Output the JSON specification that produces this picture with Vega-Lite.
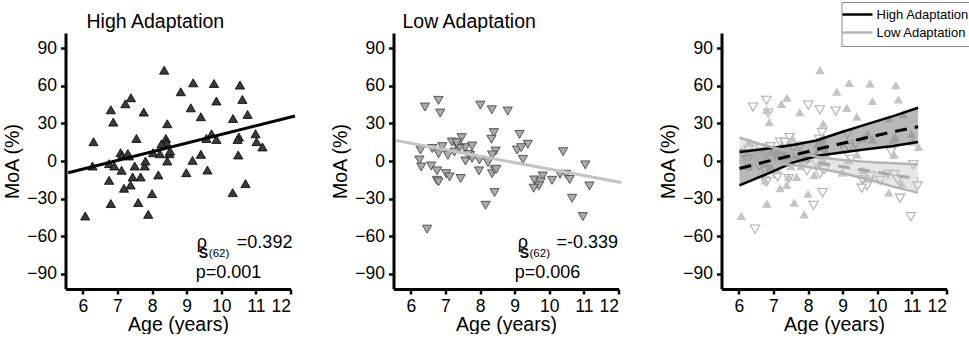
{
  "$schema": "https://vega.github.io/schema/vega-lite/v6.json",
  "padding": {"left": 2.5, "top": 1, "right": 0, "bottom": 0},
  "background": "white",
  "config": {
    "font": "Liberation Sans",
    "view": {"stroke": null},
    "axis": {"domainColor": "#000", "domainWidth": 3, "tickColor": "#000", "tickWidth": 2.5, "tickSize": 5, "labelFontSize": 17.5, "labelColor": "#000", "titleFontSize": 19.5, "titleFontWeight": "normal", "titleColor": "#000", "grid": false, "labelFont": "Liberation Sans", "titleFont": "Liberation Sans", "labelOverlap": false},
    "axisX": {"labelPadding": 3, "titlePadding": 1},
    "axisY": {"labelPadding": 4, "titlePadding": 4},
    "title": {"fontSize": 19.5, "fontWeight": "normal", "anchor": "start", "frame": "group", "offset": 1, "color": "#000", "font": "Liberation Sans"}
  },
  "datasets": {
    "high": [
      {"age": 8.35, "moa": 72.4}, {"age": 9.19, "moa": 62.3}, {"age": 9.79, "moa": 61.8}, {"age": 10.54, "moa": 60.5},
      {"age": 8.83, "moa": 55.2}, {"age": 7.39, "moa": 50.4}, {"age": 7.23, "moa": 45.6}, {"age": 9.86, "moa": 47.8},
      {"age": 10.61, "moa": 49.1}, {"age": 6.81, "moa": 40.8}, {"age": 7.76, "moa": 39.0}, {"age": 9.12, "moa": 42.4},
      {"age": 10.76, "moa": 37.1}, {"age": 6.88, "moa": 31.0}, {"age": 9.41, "moa": 35.3}, {"age": 10.34, "moa": 33.9},
      {"age": 8.44, "moa": 29.7}, {"age": 6.31, "moa": 15.4}, {"age": 7.55, "moa": 18.0}, {"age": 8.40, "moa": 18.0},
      {"age": 8.42, "moa": 14.6}, {"age": 9.72, "moa": 21.7}, {"age": 9.57, "moa": 18.0}, {"age": 9.86, "moa": 17.2},
      {"age": 10.51, "moa": 19.1}, {"age": 10.47, "moa": 17.2}, {"age": 10.99, "moa": 21.7}, {"age": 11.02, "moa": 15.4},
      {"age": 11.19, "moa": 11.2}, {"age": 7.09, "moa": 6.6}, {"age": 7.14, "moa": 4.5}, {"age": 7.33, "moa": 4.0},
      {"age": 8.03, "moa": 6.6}, {"age": 8.23, "moa": 5.8}, {"age": 8.50, "moa": 5.8}, {"age": 9.41, "moa": 5.3},
      {"age": 10.49, "moa": 4.8}, {"age": 6.28, "moa": -4.0}, {"age": 6.76, "moa": -2.1}, {"age": 6.91, "moa": -4.0},
      {"age": 7.50, "moa": -4.0}, {"age": 7.79, "moa": -4.0}, {"age": 7.81, "moa": 0.0}, {"age": 8.44, "moa": 0.0},
      {"age": 9.17, "moa": 0.5}, {"age": 7.12, "moa": -7.4}, {"age": 8.99, "moa": -9.3}, {"age": 9.60, "moa": -7.2},
      {"age": 8.18, "moa": -11.1}, {"age": 7.44, "moa": -12.7}, {"age": 7.67, "moa": -12.7}, {"age": 6.76, "moa": -15.4},
      {"age": 7.38, "moa": -19.1}, {"age": 7.19, "moa": -21.7}, {"age": 10.70, "moa": -18.0}, {"age": 8.00, "moa": -26.0},
      {"age": 10.33, "moa": -25.2}, {"age": 6.81, "moa": -33.9}, {"age": 7.60, "moa": -33.1}, {"age": 7.89, "moa": -42.5},
      {"age": 6.07, "moa": -43.8}, {"age": 8.52, "moa": 7.9}, {"age": 8.27, "moa": 13.5}, {"age": 7.30, "moa": 6.0}
    ],
    "low": [
      {"age": 6.41, "moa": 43.0}, {"age": 6.80, "moa": 48.3}, {"age": 6.85, "moa": 38.2}, {"age": 8.01, "moa": 44.5},
      {"age": 8.34, "moa": 40.8}, {"age": 8.80, "moa": 39.8}, {"age": 8.40, "moa": 22.6}, {"age": 8.33, "moa": 17.3},
      {"age": 9.14, "moa": 21.2}, {"age": 9.38, "moa": 13.3}, {"age": 7.47, "moa": 18.6}, {"age": 7.19, "moa": 15.1},
      {"age": 6.91, "moa": 11.4}, {"age": 7.34, "moa": 11.9}, {"age": 7.57, "moa": 10.6}, {"age": 7.77, "moa": 11.9},
      {"age": 6.28, "moa": 8.7}, {"age": 6.80, "moa": 5.8}, {"age": 7.07, "moa": 4.5}, {"age": 7.40, "moa": 9.9},
      {"age": 7.71, "moa": 4.5}, {"age": 7.77, "moa": 2.1}, {"age": 7.98, "moa": 0.8}, {"age": 7.58, "moa": 0.0},
      {"age": 8.45, "moa": 7.9}, {"age": 8.35, "moa": 4.8}, {"age": 8.23, "moa": -1.3}, {"age": 9.07, "moa": 8.7},
      {"age": 9.19, "moa": 10.6}, {"age": 9.24, "moa": 1.3}, {"age": 10.40, "moa": 7.4}, {"age": 11.04, "moa": -3.1},
      {"age": 6.25, "moa": 0.8}, {"age": 6.30, "moa": -4.8}, {"age": 6.59, "moa": -4.0}, {"age": 6.76, "moa": -7.9},
      {"age": 7.02, "moa": -10.1}, {"age": 7.12, "moa": -12.7}, {"age": 7.44, "moa": -14.0}, {"age": 6.75, "moa": -15.4},
      {"age": 6.80, "moa": -16.7}, {"age": 7.97, "moa": -7.9}, {"age": 8.35, "moa": -10.1}, {"age": 8.42, "moa": -7.1},
      {"age": 8.42, "moa": -25.2}, {"age": 8.16, "moa": -35.3}, {"age": 6.47, "moa": -54.3}, {"age": 9.57, "moa": -15.1},
      {"age": 9.81, "moa": -11.9}, {"age": 9.75, "moa": -16.7}, {"age": 9.70, "moa": -19.9}, {"age": 9.55, "moa": -21.7},
      {"age": 10.08, "moa": -15.4}, {"age": 10.31, "moa": -10.6}, {"age": 10.49, "moa": -10.6}, {"age": 10.59, "moa": -14.8},
      {"age": 11.16, "moa": -19.9}, {"age": 10.66, "moa": -29.7}, {"age": 10.97, "moa": -44.3}, {"age": 7.33, "moa": 14.6},
      {"age": 7.26, "moa": 7.1}, {"age": 7.65, "moa": 5.3}, {"age": 8.47, "moa": -6.6}, {"age": 6.62, "moa": 10.0}
    ],
    "regHigh": [{"age": 5.58, "moa": -9.3}, {"age": 12.13, "moa": 35.8}],
    "regLow": [{"age": 5.58, "moa": 16.4}, {"age": 12.08, "moa": -17.2}],
    "bands": [
      {"group": "High Adaptation", "age": 6.02, "lo": -19.4, "hi": 7.2, "fit": -6.0},
      {"group": "High Adaptation", "age": 6.79, "lo": -10.6, "hi": 9.8, "fit": -0.5},
      {"group": "High Adaptation", "age": 7.56, "lo": -1.3, "hi": 12.7, "fit": 4.5},
      {"group": "High Adaptation", "age": 8.24, "lo": 4.0, "hi": 16.4, "fit": 9.2},
      {"group": "High Adaptation", "age": 8.91, "lo": 6.6, "hi": 22.5, "fit": 13.5},
      {"group": "High Adaptation", "age": 9.68, "lo": 9.3, "hi": 29.2, "fit": 18.5},
      {"group": "High Adaptation", "age": 10.46, "lo": 11.9, "hi": 35.8, "fit": 23.3},
      {"group": "High Adaptation", "age": 11.18, "lo": 15.1, "hi": 42.4, "fit": 27.3},
      {"group": "Low Adaptation", "age": 6.02, "lo": -0.5, "hi": 18.5, "fit": 9.0},
      {"group": "Low Adaptation", "age": 6.5, "lo": -0.9, "hi": 14.5, "fit": 6.8},
      {"group": "Low Adaptation", "age": 7.0, "lo": -1.8, "hi": 10.8, "fit": 4.5},
      {"group": "Low Adaptation", "age": 7.5, "lo": -2.9, "hi": 7.5, "fit": 2.3},
      {"group": "Low Adaptation", "age": 8.0, "lo": -4.7, "hi": 4.7, "fit": 0.0},
      {"group": "Low Adaptation", "age": 8.5, "lo": -6.9, "hi": 2.3, "fit": -2.3},
      {"group": "Low Adaptation", "age": 9.0, "lo": -9.6, "hi": 0.8, "fit": -4.5},
      {"group": "Low Adaptation", "age": 9.5, "lo": -13.1, "hi": -0.3, "fit": -6.8},
      {"group": "Low Adaptation", "age": 10.0, "lo": -16.8, "hi": -1.1, "fit": -9.0},
      {"group": "Low Adaptation", "age": 10.5, "lo": -20.8, "hi": -1.8, "fit": -11.3},
      {"group": "Low Adaptation", "age": 11.18, "lo": -25.2, "hi": -2.7, "fit": -14.3}
    ],
    "notesHigh": [
      {"role": "big", "text": "ρ", "age": 9.29, "moa": -69.2},
      {"role": "S", "text": "S", "age": 9.35, "moa": -77.2},
      {"role": "n", "text": "(62)", "age": 9.64, "moa": -76.4},
      {"role": "big", "text": "=0.392", "age": 10.45, "moa": -69.2},
      {"role": "big", "text": "p=0.001", "age": 9.26, "moa": -93.1}
    ],
    "notesLow": [
      {"role": "big", "text": "ρ", "age": 9.09, "moa": -69.2},
      {"role": "S", "text": "S", "age": 9.15, "moa": -77.2},
      {"role": "n", "text": "(62)", "age": 9.43, "moa": -76.4},
      {"role": "big", "text": "=-0.339", "age": 10.21, "moa": -69.2},
      {"role": "big", "text": "p=0.006", "age": 9.0, "moa": -93.1}
    ]
  },
  "bounds": "flush",
  "spacing": 103,
  "hconcat": [
    {
      "width": 225, "height": 256,
      "title": {"text": "High Adaptation", "dx": 21},
      "layer": [
        {
          "data": {"name": "high"},
          "mark": {"type": "point", "shape": "triangle-up", "filled": true, "fill": "#3a3a3a", "stroke": "#000", "strokeWidth": 0.8, "size": 85, "opacity": 1},
          "encoding": {
            "x": {"field": "age", "type": "quantitative", "title": "Age (years)", "scale": {"domain": [5.5, 12], "nice": false, "zero": false}, "axis": {"values": [6, 7, 8, 9, 10, 11, 12], "labelOverlap": false, "labelBound": false, "tickCount": 7}},
            "y": {"field": "moa", "type": "quantitative", "title": "MoA (%)", "scale": {"domain": [-102, 102], "nice": false}, "axis": {"values": [-90, -60, -30, 0, 30, 60, 90], "labelOverlap": false}}
          }
        },
        {
          "data": {"name": "regHigh"},
          "mark": {"type": "line", "color": "#000", "strokeWidth": 3, "clip": false},
          "encoding": {
            "x": {"field": "age", "type": "quantitative", "title": "Age (years)"},
            "y": {"field": "moa", "type": "quantitative", "title": "MoA (%)"}
          }
        },
        {
          "data": {"name": "notesHigh"},
          "transform": [{"filter": "datum.role == 'big'"}],
          "mark": {"type": "text", "align": "left", "baseline": "alphabetic", "fontSize": 18, "color": "#000"},
          "encoding": {
            "x": {"field": "age", "type": "quantitative", "title": "Age (years)"},
            "y": {"field": "moa", "type": "quantitative", "title": "MoA (%)"},
            "text": {"field": "text"}
          }
        },
        {
          "data": {"name": "notesHigh"},
          "transform": [{"filter": "datum.role == 'S'"}],
          "mark": {"type": "text", "align": "left", "baseline": "alphabetic", "fontSize": 14, "fontWeight": "bold", "color": "#000"},
          "encoding": {
            "x": {"field": "age", "type": "quantitative", "title": "Age (years)"},
            "y": {"field": "moa", "type": "quantitative", "title": "MoA (%)"},
            "text": {"field": "text"}
          }
        },
        {
          "data": {"name": "notesHigh"},
          "transform": [{"filter": "datum.role == 'n'"}],
          "mark": {"type": "text", "align": "left", "baseline": "alphabetic", "fontSize": 11.5, "color": "#000"},
          "encoding": {
            "x": {"field": "age", "type": "quantitative", "title": "Age (years)"},
            "y": {"field": "moa", "type": "quantitative", "title": "MoA (%)"},
            "text": {"field": "text"}
          }
        }
      ]
    },
    {
      "width": 225, "height": 256,
      "title": {"text": "Low Adaptation", "dx": 9},
      "layer": [
        {
          "data": {"name": "low"},
          "mark": {"type": "point", "shape": "triangle-down", "filled": true, "fill": "#ababab", "stroke": "#4a4a4a", "strokeWidth": 0.9, "size": 85, "opacity": 1},
          "encoding": {
            "x": {"field": "age", "type": "quantitative", "title": "Age (years)", "scale": {"domain": [5.5, 12], "nice": false, "zero": false}, "axis": {"values": [6, 7, 8, 9, 10, 11, 12], "labelOverlap": false, "labelBound": false, "tickCount": 7}},
            "y": {"field": "moa", "type": "quantitative", "title": "MoA (%)", "scale": {"domain": [-102, 102], "nice": false}, "axis": {"values": [-90, -60, -30, 0, 30, 60, 90], "labelOverlap": false}}
          }
        },
        {
          "data": {"name": "regLow"},
          "mark": {"type": "line", "color": "#c4c4c4", "strokeWidth": 3, "clip": false},
          "encoding": {
            "x": {"field": "age", "type": "quantitative", "title": "Age (years)"},
            "y": {"field": "moa", "type": "quantitative", "title": "MoA (%)"}
          }
        },
        {
          "data": {"name": "notesLow"},
          "transform": [{"filter": "datum.role == 'big'"}],
          "mark": {"type": "text", "align": "left", "baseline": "alphabetic", "fontSize": 18, "color": "#000"},
          "encoding": {
            "x": {"field": "age", "type": "quantitative", "title": "Age (years)"},
            "y": {"field": "moa", "type": "quantitative", "title": "MoA (%)"},
            "text": {"field": "text"}
          }
        },
        {
          "data": {"name": "notesLow"},
          "transform": [{"filter": "datum.role == 'S'"}],
          "mark": {"type": "text", "align": "left", "baseline": "alphabetic", "fontSize": 14, "fontWeight": "bold", "color": "#000"},
          "encoding": {
            "x": {"field": "age", "type": "quantitative", "title": "Age (years)"},
            "y": {"field": "moa", "type": "quantitative", "title": "MoA (%)"},
            "text": {"field": "text"}
          }
        },
        {
          "data": {"name": "notesLow"},
          "transform": [{"filter": "datum.role == 'n'"}],
          "mark": {"type": "text", "align": "left", "baseline": "alphabetic", "fontSize": 11.5, "color": "#000"},
          "encoding": {
            "x": {"field": "age", "type": "quantitative", "title": "Age (years)"},
            "y": {"field": "moa", "type": "quantitative", "title": "MoA (%)"},
            "text": {"field": "text"}
          }
        }
      ]
    },
    {
      "width": 225, "height": 256,
      "layer": [
        {
          "data": {"name": "low"},
          "mark": {"type": "point", "shape": "triangle-down", "filled": true, "fill": "#ffffff", "stroke": "#b0b0b0", "strokeWidth": 1.1, "size": 90, "opacity": 1},
          "encoding": {
            "x": {"field": "age", "type": "quantitative", "title": "Age (years)", "scale": {"domain": [5.5, 12], "nice": false, "zero": false}, "axis": {"values": [6, 7, 8, 9, 10, 11, 12], "labelOverlap": false, "labelBound": false, "tickCount": 7}},
            "y": {"field": "moa", "type": "quantitative", "title": "MoA (%)", "scale": {"domain": [-102, 102], "nice": false}, "axis": {"values": [-90, -60, -30, 0, 30, 60, 90], "labelOverlap": false}}
          }
        },
        {
          "data": {"name": "high"},
          "mark": {"type": "point", "shape": "triangle-up", "filled": true, "fill": "#c4c4c4", "strokeWidth": 0, "size": 90, "opacity": 1},
          "encoding": {
            "x": {"field": "age", "type": "quantitative", "title": "Age (years)"},
            "y": {"field": "moa", "type": "quantitative", "title": "MoA (%)"}
          }
        },
        {
          "data": {"name": "bands"},
          "transform": [{"filter": "datum.group == 'Low Adaptation'"}],
          "mark": {"type": "area", "color": "#c0c0c0", "opacity": 0.4},
          "encoding": {
            "x": {"field": "age", "type": "quantitative", "title": "Age (years)"},
            "y": {"field": "lo", "type": "quantitative", "title": "MoA (%)"},
            "y2": {"field": "hi"}
          }
        },
        {
          "data": {"name": "bands"},
          "transform": [{"filter": "datum.group == 'High Adaptation'"}],
          "mark": {"type": "area", "color": "#808080", "opacity": 0.55},
          "encoding": {
            "x": {"field": "age", "type": "quantitative", "title": "Age (years)"},
            "y": {"field": "lo", "type": "quantitative", "title": "MoA (%)"},
            "y2": {"field": "hi"}
          }
        },
        {
          "data": {"name": "bands"},
          "transform": [{"filter": "datum.group == 'Low Adaptation'"}],
          "mark": {"type": "line", "color": "#a8a8a8", "strokeWidth": 3, "strokeDash": [12, 8]},
          "encoding": {
            "x": {"field": "age", "type": "quantitative", "title": "Age (years)"},
            "y": {"field": "fit", "type": "quantitative", "title": "MoA (%)"}
          }
        },
        {
          "data": {"name": "bands"},
          "transform": [{"fold": ["lo", "hi"], "as": ["bound", "val"]}],
          "mark": {"type": "line", "strokeWidth": 2.5},
          "encoding": {
            "x": {"field": "age", "type": "quantitative", "title": "Age (years)"},
            "y": {"field": "val", "type": "quantitative", "title": "MoA (%)"},
            "detail": {"field": "bound"},
            "stroke": {
              "field": "group", "type": "nominal",
              "scale": {"domain": ["High Adaptation", "Low Adaptation"], "range": ["#000000", "#b4b4b4"]},
              "legend": {"title": null, "orient": "none", "legendX": 776, "legendY": -31, "padding": 6, "strokeColor": "#8a8a8a", "fillColor": "#ffffff", "labelFontSize": 13, "labelFont": "Liberation Sans", "labelColor": "#000", "labelOffset": 16, "symbolType": "M-3.84,0H6.16", "symbolSize": 36, "symbolStrokeWidth": 2.5, "rowPadding": 4}
            }
          }
        },
        {
          "data": {"name": "bands"},
          "transform": [{"filter": "datum.group == 'High Adaptation'"}],
          "mark": {"type": "line", "color": "#000", "strokeWidth": 3, "strokeDash": [12, 8]},
          "encoding": {
            "x": {"field": "age", "type": "quantitative", "title": "Age (years)"},
            "y": {"field": "fit", "type": "quantitative", "title": "MoA (%)"}
          }
        }
      ]
    }
  ]
}
